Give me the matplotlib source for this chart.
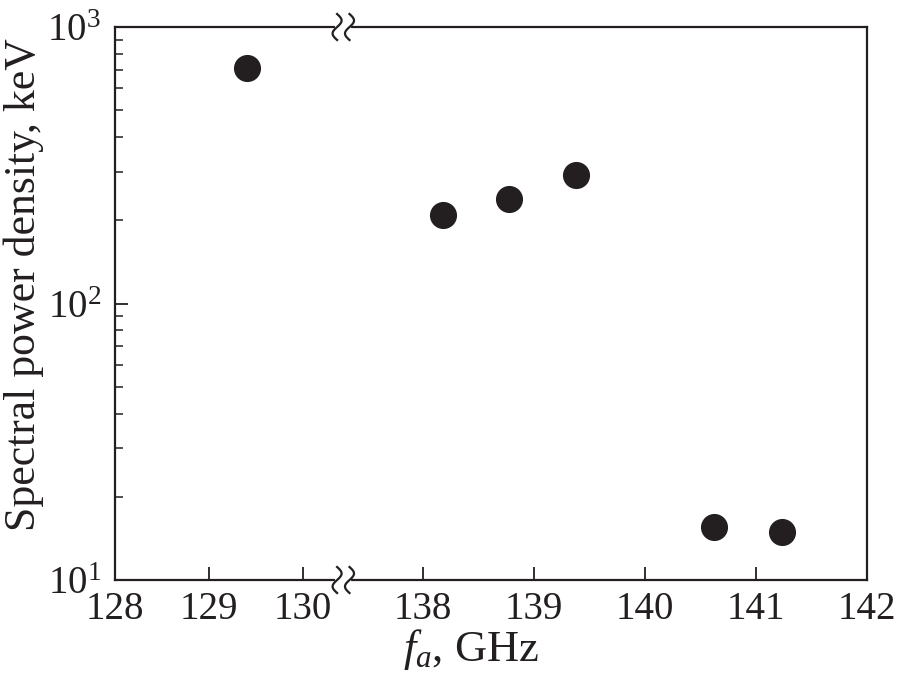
import numpy as np
import matplotlib

matplotlib.use("Agg")

import matplotlib.pyplot as plt
import matplotlib.transforms as mtransforms

# frequencies (GHz) and spectral power density (keV)
frequencies = [129.40, 138.18, 138.77, 139.38, 140.62, 141.23]
power_density = [711, 209, 239, 292, 15.6, 14.9]

x_ticks = [128, 129, 130, 138, 139, 140, 141, 142]
y_ticks = [10, 100, 1000]

# broken x axis: 128..BREAK_LOW then BREAK_HIGH..142
BREAK_LOW = 130.43
BREAK_HIGH = 137.28
RIGHT_STRETCH = 1.181


def forward(x):
    x = np.asarray(x, dtype=float)
    left = x - 128
    right = (BREAK_LOW - 128) + (x - BREAK_HIGH) * RIGHT_STRETCH
    return np.where(x <= BREAK_LOW, left, np.where(x >= BREAK_HIGH, right, BREAK_LOW - 128))


def inverse(u):
    u = np.asarray(u, dtype=float)
    edge = BREAK_LOW - 128
    return np.where(u <= edge, u + 128, BREAK_HIGH + (u - edge) / RIGHT_STRETCH)


plt.rcParams["font.family"] = ["Liberation Serif", "DejaVu Serif"]
plt.rcParams["mathtext.fontset"] = "custom"
plt.rcParams["mathtext.rm"] = "Liberation Serif"
plt.rcParams["mathtext.it"] = "Liberation Serif:italic"
plt.rcParams["font.size"] = 28

fig = plt.figure(figsize=(9.04, 6.89), dpi=100)
ax = fig.add_axes([0.1272, 0.1582, 0.8319, 0.8026])

ax.plot(frequencies, power_density, linestyle="none", marker="o",
        markersize=18.5, color="#231f20", zorder=3)

ax.set_xscale("function", functions=(forward, inverse))
ax.set_yscale("log")
ax.set_xlim(128, 142)
ax.set_ylim(10, 1000)

ax.set_xticks(x_ticks)
ax.set_xticklabels([str(t) for t in x_ticks])
ax.xaxis.set_minor_locator(matplotlib.ticker.NullLocator())
ax.set_yticks(y_ticks)
ax.set_yticklabels([r"$10^{%d}$" % int(np.log10(t)) for t in y_ticks])

ax.tick_params(axis="both", which="both", direction="in", top=False, right=False,
               color="#231f20", labelcolor="#231f20")
ax.tick_params(axis="x", which="major", length=9.5, width=1.3, pad=8)
ax.tick_params(axis="y", which="major", length=9, width=1.3, pad=10)
ax.tick_params(axis="y", which="minor", length=6, width=1.1)

for spine in ax.spines.values():
    spine.set_linewidth(1.6)
    spine.set_color("#231f20")

ax.set_xlabel(r"$f_a$, GHz", fontsize=32, color="#231f20")
ax.xaxis.set_label_coords(0.473, -0.085)
ax.set_ylabel("Spectral power density, keV", fontsize=31.5, color="#231f20")
ax.yaxis.set_label_coords(-0.095, 0.535)

# break marks on top and bottom spines
break_frac = (forward(BREAK_LOW) / forward(142)).item()
t = np.linspace(-1, 1, 60)
wave_y = 0.13 * t
wave_x = 0.045 * np.sin(np.pi * t)
for y_frac in (0, 1):
    trans = fig.dpi_scale_trans + mtransforms.ScaledTranslation(
        break_frac, y_frac, ax.transAxes)
    ax.plot([-0.06, 0.06], [0, 0], color="white", linewidth=3,
            transform=trans, clip_on=False, zorder=5)
    for shift in (-0.062, 0.062):
        ax.plot(wave_x + shift, wave_y, color="#231f20", linewidth=1.6,
                transform=trans, clip_on=False, zorder=6)

fig.savefig("out.png", dpi=100)
plt.close(fig)
